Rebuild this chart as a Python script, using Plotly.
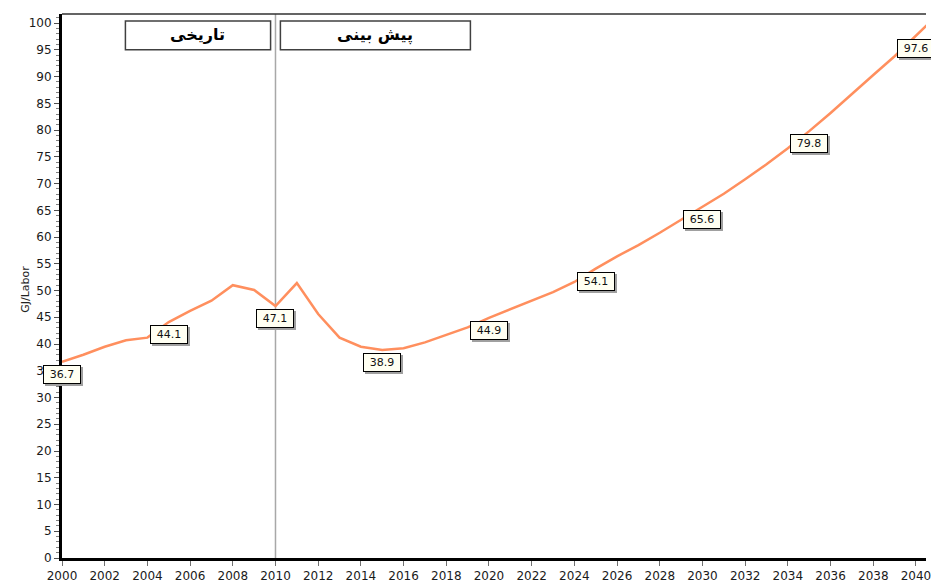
import plotly.graph_objects as go

years = list(range(2000, 2042))
values = [36.7, 38.0, 39.5, 40.7, 41.2, 44.1, 46.2, 48.1, 51.0, 50.1,
          47.1, 51.4, 45.6, 41.2, 39.5, 38.9, 39.2, 40.3, 41.7, 43.1,
          44.9, 46.5, 48.2, 49.7, 51.6, 54.1, 56.4, 58.5, 60.8, 63.2,
          65.6, 68.1, 70.8, 73.6, 76.6, 79.8, 83.2, 86.8, 90.3, 93.8,
          97.6, 101.5]
label_years = [2000, 2005, 2010, 2015, 2020, 2025, 2030, 2035, 2040]
x_ticks = list(range(2000, 2041, 2))
y_ticks = list(range(0, 101, 5))
y_title = "GJ/Labor"
hist_text = "تاریخی"
fore_text = "پیش بینی"
split_year = 2010

FONT = "DejaVu Sans"
fig = go.Figure()
fig.add_trace(go.Scatter(x=years, y=values, mode="lines",
                         line=dict(color="#FF8F5E", width=2.5),
                         hoverinfo="skip", showlegend=False, cliponaxis=True))

# vertical separator
fig.add_shape(type="line", xref="x", yref="paper", x0=split_year, x1=split_year,
              y0=0, y1=1, line=dict(color="#A8A8A8", width=1.5), layer="below")
# top border
fig.add_shape(type="line", xref="paper", yref="paper", x0=0, x1=1, y0=1, y1=1,
              line=dict(color="#303030", width=1.5))

# section boxes
fig.add_shape(type="rect", xref="x", yref="y", x0=2002.97, x1=2009.77, y0=95.0, y1=100.4,
              line=dict(color="#404040", width=1.5), fillcolor="white")
fig.add_shape(type="rect", xref="x", yref="y", x0=2010.23, x1=2019.13, y0=95.0, y1=100.4,
              line=dict(color="#404040", width=1.5), fillcolor="white")
fig.add_annotation(x=(2002.97 + 2009.77) / 2, y=97.8, xref="x", yref="y",
                   text="<b>" + hist_text + "</b>", showarrow=False,
                   font=dict(family=FONT, size=16, color="black"))
fig.add_annotation(x=(2010.23 + 2019.13) / 2, y=97.8, xref="x", yref="y",
                   text="<b>" + fore_text + "</b>", showarrow=False,
                   font=dict(family=FONT, size=16, color="black"))

# value labels
lookup = dict(zip(years, values))
for yr in label_years:
    v = lookup[yr]
    txt = f"{v:.1f}"
    fig.add_annotation(x=yr, y=v, xref="x", yref="y", text=txt, showarrow=False,
                       xanchor="center", yanchor="top", yshift=-5, xshift=2, width=32,
                       font=dict(family=FONT, size=11, color="#A0A0A0"),
                       bgcolor="#A0A0A0", bordercolor="#A0A0A0", borderwidth=1, borderpad=2)
    fig.add_annotation(x=yr, y=v, xref="x", yref="y", text=txt, showarrow=False,
                       xanchor="center", yanchor="top", yshift=-3, width=32,
                       font=dict(family=FONT, size=11, color="#111111"),
                       bgcolor="#FFFFF2", bordercolor="black", borderwidth=1, borderpad=2)

# y title
fig.add_annotation(xref="paper", yref="paper", x=0, y=0.494, xshift=-45,
                   text=y_title, textangle=-90, showarrow=False,
                   font=dict(family=FONT, size=11, color="#222222"))

fig.update_layout(
    width=931, height=583,
    margin=dict(l=62, r=0, t=14, b=24),
    paper_bgcolor="white", plot_bgcolor="white",
    font=dict(family=FONT, size=12, color="#1a1a1a"),
    xaxis=dict(range=[2000, 2040.47], tickvals=x_ticks, ticktext=[str(t) for t in x_ticks],
               showgrid=False, zeroline=False, showline=True, linecolor="black", linewidth=3,
               ticks="outside", ticklen=5, tickcolor="#707070", tickwidth=1,
               ticklabeloverflow="allow",
               tickfont=dict(family=FONT, size=12, color="#1a1a1a")),
    yaxis=dict(range=[0, 101.7], tickvals=y_ticks, ticktext=[str(t) for t in y_ticks],
               showgrid=False, zeroline=False, showline=True, linecolor="black", linewidth=3,
               ticks="outside", ticklen=5, tickcolor="#505050", tickwidth=1,
               tickfont=dict(family=FONT, size=12, color="#1a1a1a"),
               minor=dict(dtick=1, ticks="outside", ticklen=3, tickcolor="#808080", showgrid=False)),
)

fig.write_html(
    "out.html",
    config={"displayModeBar": False},
    post_script="document.documentElement.style.overflow='hidden';"
                "document.body.style.margin='0';document.body.style.overflow='hidden';",
)
